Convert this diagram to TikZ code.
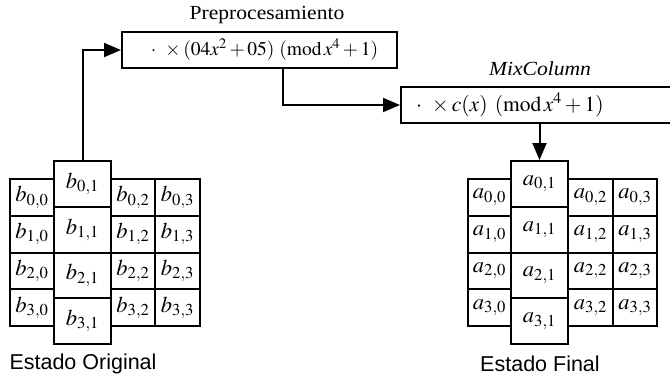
\documentclass[tikz,border=0pt]{standalone}
\usepackage{mathptmx}
\usepackage{fontspec}
\setmainfont{Liberation Serif}
\newfontfamily\lsans{Liberation Sans}
\usetikzlibrary{arrows.meta}
\tikzset{
  cell/.style={draw, line width=2pt, inner sep=0pt, font=\fontsize{22.5}{26}\selectfont},
  opbox/.style={draw, line width=2pt, minimum height=36pt, inner sep=0pt},
  conn/.style={line width=2pt, -{Triangle[length=17pt,width=14pt]}},
  caption/.style={font=\lsans\fontsize{21.5}{24}\selectfont, inner sep=0pt},
  header/.style={font=\fontsize{20}{22}\selectfont, inner sep=0pt}
}
\begin{document}
\begin{tikzpicture}[x=1pt,y=-1pt]
\useasboundingbox (0,0) rectangle (670,378);
\fill[white] (0,0) rectangle (670,378);
% grids
\foreach \g/\l/\xa/\wwa/\xb/\wwb/\xc/\wwc/\xd/\wwd in {L/b/32/44/82.5/57/133/44/177.5/45, R/a/489.5/43/539.5/57/590.5/45/635/44} {
  \foreach \r in {0,...,3} {
    \node[cell, minimum width=\wwa pt, minimum height=36.75pt] (\g\r0) at (\xa,{197.375+36.75*\r}) {$\l_{\r,0}$};
    \node[cell, minimum width=\wwc pt, minimum height=36.75pt] (\g\r2) at (\xc,{197.375+36.75*\r}) {$\l_{\r,2}$};
    \node[cell, minimum width=\wwd pt, minimum height=36.75pt] (\g\r3) at (\xd,{197.375+36.75*\r}) {$\l_{\r,3}$};
    \node[cell, minimum width=\wwb pt, minimum height=45.75pt] (\g\r1) at (\xb,{183.875+45.75*\r}) {$\l_{\r,1}$};
  }
}
% operation boxes
\node[opbox, minimum width=275pt, font=\fontsize{19.5}{24}\selectfont] (box1) at (259.5,50)
  {\hspace*{10pt}$\cdot\;\,\times (04x^2+05)\ (\mathrm{mod}\,x^4+1)$};
\node[opbox, anchor=west, text width=250pt, inner xsep=15pt, align=left, font=\fontsize{21.5}{24}\selectfont] (box2) at (400,105)
  {$\cdot\;\,\times c(x)\ (\mathrm{mod}\,x^4+1)$};
% labels
\node[header] (lpre) at (267,15) {\scalebox{1.08}[1]{Preprocesamiento}};
\node[header] (lmix) at (540,69) {\scalebox{1.08}[1]{\itshape MixColumn}};
\node[caption] (lorig) at (83,364) {Estado Original};
\node[caption] (lfin) at (540,364) {Estado Final};
% connectors
\draw[conn] (L01.north) |- (box1.west);
\draw[conn] ([xshift=23.5pt]box1.south) |- (box2.west);
\draw[conn] (R01.north |- box2.south) -- (R01.north);
\end{tikzpicture}
\end{document}
